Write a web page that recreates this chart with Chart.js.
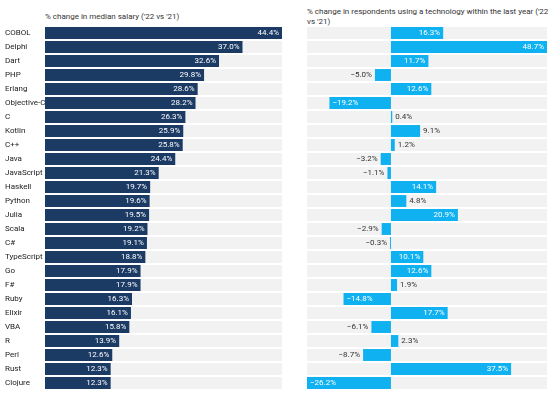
<!DOCTYPE html>
<html>
<head>
<meta charset="utf-8">
<script src="https://cdn.jsdelivr.net/npm/chart.js@4"></script>
<style>
  body { margin: 0; width: 550px; height: 400px; background: #fff; font-family: Roboto, sans-serif; position: relative; overflow: hidden; }
  .sub { position: absolute; font-size: 8px; color: #333; line-height: 10px; }
  .box { position: absolute; top: 26px; height: 364px; }
</style>
</head>
<body>
<div class="sub" style="left:45px; top:12px;">% change in median salary ('22 vs '21)</div>
<div class="sub" style="left:307px; top:7px; width:243px;">% change in respondents using a technology within the last year ('22 vs '21)</div>
<div class="box" style="left:0; width:282px;"><canvas id="salaryChart"></canvas></div>
<div class="box" style="left:307px; width:240px;"><canvas id="usageChart"></canvas></div>
<script>
const languages = ["COBOL", "Delphi", "Dart", "PHP", "Erlang", "Objective-C", "C", "Kotlin", "C++", "Java",
    "JavaScript", "Haskell", "Python", "Julia", "Scala", "C#", "TypeScript", "Go", "F#", "Ruby",
    "Elixir", "VBA", "R", "Perl", "Rust", "Clojure"];
const salaryChange = [44.4, 37.0, 32.6, 29.8, 28.6, 28.2, 26.3, 25.9, 25.8, 24.4,
    21.3, 19.7, 19.6, 19.5, 19.2, 19.1, 18.8, 17.9, 17.9, 16.3,
    16.1, 15.8, 13.9, 12.6, 12.3, 12.3];
const usageChange = [16.3, 48.7, 11.7, -5.0, 12.6, -19.2, 0.4, 9.1, 1.2, -3.2,
    -1.1, 14.1, 4.8, 20.9, -2.9, -0.3, 10.1, 12.6, 1.9, -14.8,
    17.7, -6.1, 2.3, -8.7, 37.5, -26.2];

function fmt(v) {
    return (v < 0 ? "\u2212" + Math.abs(v).toFixed(1) : v.toFixed(1)) + "%";
}

// grey track behind each row, value labels, and optional category names
const rowPlugin = {
    id: "rows",
    beforeDatasetsDraw(chart) {
        const ctx = chart.ctx;
        const area = chart.chartArea;
        const meta = chart.getDatasetMeta(0);
        ctx.save();
        ctx.fillStyle = "#f2f2f2";
        meta.data.forEach(function (bar) {
            ctx.fillRect(area.left, bar.y - bar.height / 2, area.right - area.left, bar.height);
        });
        ctx.restore();
    },
    afterDatasetsDraw(chart, args, opts) {
        const ctx = chart.ctx;
        const meta = chart.getDatasetMeta(0);
        const values = chart.data.datasets[0].data;
        ctx.save();
        ctx.font = "8px Roboto, sans-serif";
        ctx.textBaseline = "middle";
        meta.data.forEach(function (bar, i) {
            const v = values[i];
            const w = Math.abs(bar.x - bar.base);
            const txt = fmt(v);
            if (w > 30) {
                ctx.fillStyle = "#fff";
                ctx.textAlign = v >= 0 ? "right" : "left";
                ctx.fillText(txt, v >= 0 ? bar.x - 3 : bar.x + 3, bar.y);
            } else {
                ctx.fillStyle = "#333";
                ctx.textAlign = v >= 0 ? "left" : "right";
                ctx.fillText(txt, v >= 0 ? bar.x + 3 : bar.x - 3, bar.y);
            }
            if (opts.names) {
                ctx.fillStyle = "#222";
                ctx.textAlign = "left";
                ctx.fillText(chart.data.labels[i], 5, bar.y);
            }
        });
        ctx.restore();
    }
};

function makeChart(id, values, color, min, max, names) {
    return new Chart(document.getElementById(id), {
        type: "bar",
        data: {
            labels: languages,
            datasets: [{
                data: values,
                backgroundColor: color,
                barPercentage: 0.85,
                categoryPercentage: 1,
            }],
        },
        options: {
            indexAxis: "y",
            responsive: true,
            maintainAspectRatio: false,
            animation: false,
            layout: { padding: { left: names ? 45 : 0 } },
            plugins: { legend: { display: false }, tooltip: { enabled: false }, rows: { names: names } },
            scales: {
                x: { display: false, min: min, max: max },
                y: { display: false },
            },
        },
        plugins: [rowPlugin],
    });
}

makeChart("salaryChart", salaryChange, "#1b3a64", 0, 44.4, true);
makeChart("usageChart", usageChange, "#10b1f1", -26.2, 48.7, false);
</script>
</body>
</html>
